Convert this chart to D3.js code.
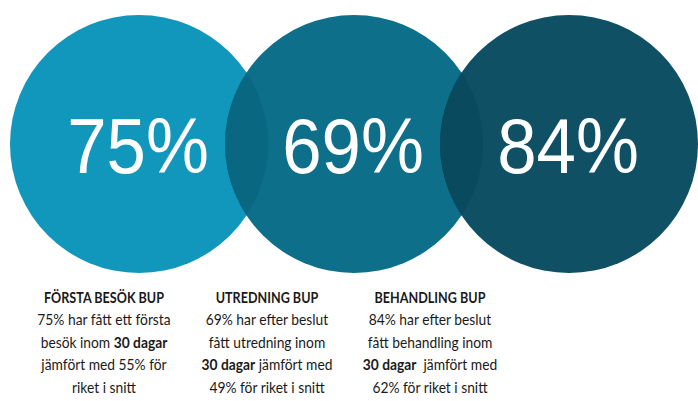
<!DOCTYPE html>
<html>
<head>
<meta charset="utf-8">
<script src="https://cdn.jsdelivr.net/npm/d3@7"></script>
<style>
  body { margin: 0; background: #fff; }
  svg { display: block; }
</style>
</head>
<body>
<div id="chart"></div>
<script>
const categories = ["FÖRSTA BESÖK BUP", "UTREDNING BUP", "BEHANDLING BUP"];
const values = [75, 69, 84];
const fills = ["#1097bb", "#0e6f8a", "#0f5064"];
const overlapFills = ["#0a6782", "#0a4a5e"];
// description lines, [text, bold] segments
const descriptions = [
  [
    [["75% har fått ett första", false]],
    [["besök inom ", false], ["30 dagar", true]],
    [["jämfört med 55% för", false]],
    [["riket i snitt", false]]
  ],
  [
    [["69% har efter beslut", false]],
    [["fått utredning inom", false]],
    [["30 dagar", true], [" jämfört med", false]],
    [["49% för riket i snitt", false]]
  ],
  [
    [["84% har efter beslut", false]],
    [["fått behandling inom", false]],
    [["30 dagar", true], ["  jämfört med", false]],
    [["62% för riket i snitt", false]]
  ]
];

const width = 698, height = 401;
const r = 129;
const cy = 144;

const svg = d3.select("#chart").append("svg")
  .attr("width", width)
  .attr("height", height);

const xCircle = d3.scaleLinear().domain([0, 2]).range([139, 569]);
const xText = d3.scaleLinear().domain([0, 2]).range([104, 430]);

const idx = d3.range(values.length);

const defs = svg.append("defs");
defs.selectAll("clipPath")
  .data(idx)
  .join("clipPath")
  .attr("id", i => "c" + i)
  .append("circle")
  .attr("cx", i => xCircle(i))
  .attr("cy", cy)
  .attr("r", r);

svg.append("g")
  .selectAll("circle")
  .data(idx)
  .join("circle")
  .attr("cx", i => xCircle(i))
  .attr("cy", cy)
  .attr("r", r)
  .attr("fill", i => fills[i]);

// lens shaped overlaps
svg.append("g")
  .selectAll("circle")
  .data([0, 1])
  .join("circle")
  .attr("clip-path", i => `url(#c${i})`)
  .attr("cx", i => xCircle(i + 1))
  .attr("cy", cy)
  .attr("r", r)
  .attr("fill", i => overlapFills[i]);

// big percentages (slightly narrowed like the source)
svg.append("g")
  .selectAll("text")
  .data(idx)
  .join("text")
  .attr("transform", i => `translate(${xCircle(i) - 1},173) scale(0.92,1)`)
  .attr("text-anchor", "middle")
  .attr("fill", "#fff")
  .attr("font-family", "Liberation Sans, Arial, sans-serif")
  .attr("font-size", 77)
  .text(i => values[i] + "%");

const cols = svg.append("g")
  .selectAll("g")
  .data(idx)
  .join("g")
  .attr("font-family", "Lato, 'Open Sans', sans-serif")
  .attr("fill", "#1a1a1a")
  .attr("text-anchor", "middle");

cols.append("text")
  .attr("transform", i => `translate(${xText(i)},302.5) scale(0.84,1)`)
  .attr("font-size", 15)
  .attr("font-weight", "bold")
  .text(i => categories[i]);

cols.each(function(i) {
  d3.select(this).selectAll("text.line")
    .data(descriptions[i])
    .join("text")
    .attr("class", "line")
    .attr("transform", (d, j) => `translate(${xText(i)},${325 + j * 22.5}) scale(0.92,1)`)
    .attr("font-size", 15)
    .selectAll("tspan")
    .data(d => d)
    .join("tspan")
    .attr("font-weight", d => d[1] ? "bold" : "normal")
    .attr("xml:space", "preserve")
    .text(d => d[0]);
});
</script>
</body>
</html>
